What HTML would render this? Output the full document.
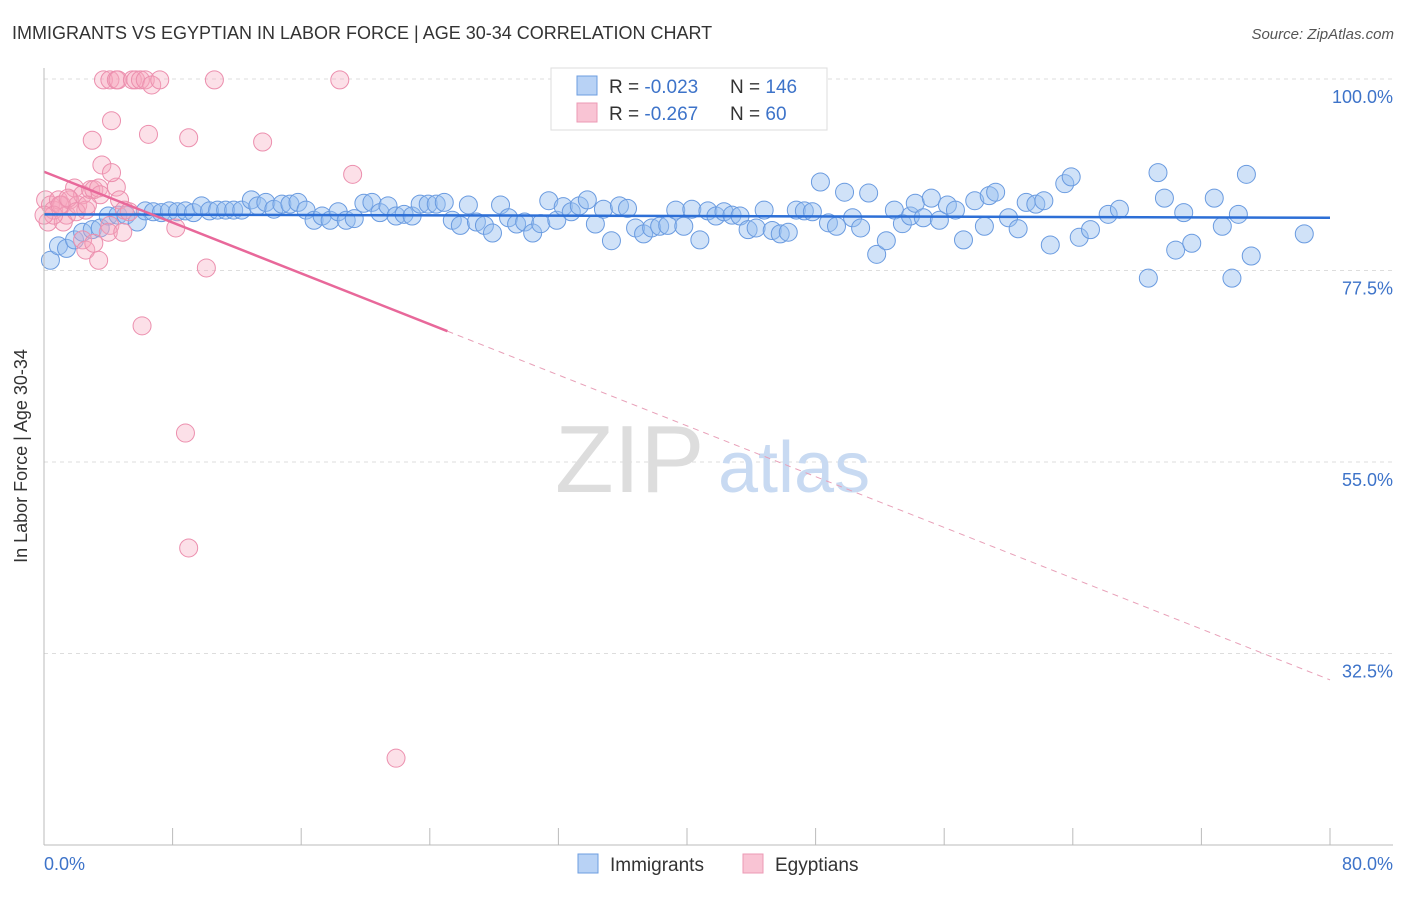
<!DOCTYPE html>
<html><head><meta charset="utf-8"><style>
body{margin:0;background:#fff;font-family:"Liberation Sans",sans-serif;}
svg text{font-family:"Liberation Sans",sans-serif;}
</style></head><body>
<svg width="1406" height="892" xmlns="http://www.w3.org/2000/svg">
<text x="12" y="39" font-size="18" fill="#333">IMMIGRANTS VS EGYPTIAN IN LABOR FORCE | AGE 30-34 CORRELATION CHART</text>
<text x="1394" y="39" font-size="15" fill="#555" text-anchor="end" font-style="italic">Source: ZipAtlas.com</text>
<g id="grid"></g>
<text x="555" y="492" font-size="96" fill="#ddd" font-family="Liberation Serif">ZIP</text>
<text x="718" y="492" font-size="72" fill="#c8daf2">atlas</text>
<g id="pts"></g>
<g id="trend"></g>
<g id="axes"></g>
<text x="27" y="456" font-size="18" fill="#333" text-anchor="middle" transform="rotate(-90 27 456)">In Labor Force | Age 30-34</text>
<text x="44" y="870" font-size="18" fill="#3d73c9">0.0%</text>
<text x="1393" y="870" font-size="18" fill="#3d73c9" text-anchor="end">80.0%</text>
<g>
<rect x="551" y="68" width="276" height="62" fill="#fff" stroke="#ddd"/>
<rect x="577" y="76" width="20" height="19" fill="#b8d2f5" stroke="#6c9ee0"/>
<rect x="577" y="103" width="20" height="19" fill="#f9c4d4" stroke="#ec9ab5"/>
<text x="609" y="93" font-size="19" fill="#333">R = <tspan fill="#3d73c9">-0.023</tspan></text>
<text x="730" y="93" font-size="19" fill="#333">N = <tspan fill="#3d73c9">146</tspan></text>
<text x="609" y="120" font-size="19" fill="#333">R = <tspan fill="#3d73c9"> -0.267</tspan></text>
<text x="730" y="120" font-size="19" fill="#333">N = <tspan fill="#3d73c9"> 60</tspan></text>
</g>
<g>
<rect x="578" y="854" width="20" height="19" fill="#b8d2f5" stroke="#6c9ee0"/>
<text x="610" y="871" font-size="19" fill="#333">Immigrants</text>
<rect x="743" y="854" width="20" height="19" fill="#f9c4d4" stroke="#ec9ab5"/>
<text x="775" y="871" font-size="19" fill="#333">Egyptians</text>
</g>
</svg>
<script>
const yTicks=[100,77.5,55,32.5];
const yTickLabels=["100.0%","77.5%","55.0%","32.5%"];
const xTicks=[0,8,16,24,32,40,48,56,64,72,80];
const blueX=[0.4,0.9,1.4,1.9,2.4,3.0,3.5,4.0,4.6,5.1,5.8,6.3,6.8,7.3,7.8,8.3,8.8,9.3,9.8,10.3,10.8,11.3,11.8,12.3,12.9,13.3,13.8,14.3,14.8,15.3,15.8,16.3,16.8,17.3,17.8,18.3,18.8,19.3,19.9,20.4,20.9,21.4,21.9,22.4,22.9,23.4,23.9,24.4,24.9,25.4,25.9,26.4,26.9,27.4,27.9,28.4,28.9,29.4,29.9,30.4,30.9,31.4,31.9,32.3,32.8,33.3,33.8,34.3,34.8,35.3,35.8,36.3,36.8,37.3,37.8,38.3,38.8,39.3,39.8,40.3,40.8,41.3,41.8,42.3,42.8,43.3,43.8,44.3,44.8,45.3,45.8,46.3,46.8,47.3,47.8,48.3,48.8,49.3,49.8,50.3,50.8,51.3,51.8,52.4,52.9,53.4,53.9,54.2,54.7,55.2,55.7,56.2,56.7,57.2,57.9,58.5,58.8,59.2,60.0,60.6,61.1,61.7,62.2,62.6,63.5,63.9,64.4,65.1,66.2,66.9,68.7,69.3,69.7,70.4,70.9,71.4,72.8,73.3,73.9,74.3,74.8,75.1,78.4];
const blueY=[78.7,80.4,80.1,81.1,82.0,82.3,82.5,83.9,84.0,84.0,83.2,84.5,84.4,84.3,84.5,84.4,84.5,84.3,85.1,84.5,84.6,84.6,84.6,84.6,85.8,85.1,85.5,84.7,85.3,85.3,85.5,84.6,83.4,83.9,83.4,84.4,83.4,83.6,85.4,85.5,84.3,85.1,83.9,84.1,83.9,85.3,85.3,85.3,85.5,83.4,82.8,85.2,83.2,82.8,81.9,85.2,83.7,82.96,83.2,81.9,83.0,85.7,83.4,85.0,84.4,85.1,85.8,82.96,84.7,81.0,85.1,84.8,82.5,81.8,82.5,82.7,82.8,84.6,82.7,84.7,81.1,84.5,83.9,84.4,84.0,83.9,82.3,82.5,84.6,82.2,81.8,82.0,84.6,84.5,84.4,87.9,83.1,82.7,86.7,83.7,82.5,86.6,79.4,81.0,84.6,83.0,83.9,85.4,83.7,86.0,83.4,85.2,84.6,81.1,85.7,82.7,86.3,86.7,83.7,82.4,85.5,85.3,85.7,80.5,87.7,88.5,81.4,82.3,84.1,84.7,76.6,89.0,86.0,79.9,84.3,80.7,86.0,82.7,76.6,84.1,88.8,79.2,81.8];
const pinkX=[0.1,0.4,0.6,0.9,1.1,1.4,1.6,1.9,2.1,2.4,2.6,2.9,3.1,3.4,3.5,0.25,1.2,2.4,2.6,3.1,3.4,4.1,4.5,4.7,5.0,5.3,3.0,3.6,4.2,4.2,3.7,4.1,4.5,4.6,5.5,5.7,6.0,6.3,6.7,7.2,6.5,9.0,10.6,13.6,18.4,19.2,8.2,6.1,10.1,8.8,9.0,21.9,0.6,1.0,1.5,2.0,2.7,0,4.0,4.9];
const pinkY=[85.8,85.2,84.6,85.8,85.2,84.0,85.8,87.2,85.2,86.4,84.6,87.0,87.0,87.2,86.4,83.2,83.2,81.1,79.9,80.7,78.7,82.8,87.3,85.8,84.6,84.4,92.8,89.9,89.0,95.1,99.9,99.9,99.9,99.9,99.9,99.9,99.9,99.9,99.3,99.9,93.5,93.1,99.9,92.6,99.9,88.8,82.5,71.0,77.8,58.4,44.9,20.2,84.0,85.2,86.0,84.4,85.2,84.0,82.0,82.0];
const blueTrend=[84.1,83.7];
const pinkTrend=[89.1,29.4];
const pinkSolidEnd=25.1;
const NS="http://www.w3.org/2000/svg";
const X=v=>44+v*16.075, Y=v=>79+(100-v)*8.511;
function mk(t,a,p){const e=document.createElementNS(NS,t);for(const k in a)e.setAttribute(k,a[k]);p.appendChild(e);return e;}
const grid=document.getElementById('grid');
yTicks.forEach((t,i)=>{
 const l=mk('line',{x1:44,x2:1393,y1:Y(t),y2:Y(t),stroke:'#ddd','stroke-dasharray':'4,4'},grid);
 
 
 const tx=mk('text',{x:1393,y:Y(t)+24,'font-size':18,fill:'#3d73c9','text-anchor':'end'},grid);
 tx.textContent=yTickLabels[i];
 
 
});
const axes=document.getElementById('axes');
mk('line',{x1:44,x2:44,y1:68,y2:845,stroke:'#bbb'},axes);
mk('line',{x1:44,x2:1393,y1:845,y2:845,stroke:'#bbb'},axes);
xTicks.forEach(t=>{const l=mk('line',{x1:X(t),x2:X(t),y1:828,y2:845,stroke:'#bbb'},axes);
 
 });
const pts=document.getElementById('pts');
blueX.forEach((x,i)=>{const c=mk('circle',{cx:X(x),cy:Y(blueY[i]),r:9,fill:'rgba(150,190,240,0.45)',stroke:'#6a9be0','stroke-width':1},pts);
 
 });
pinkX.forEach((x,i)=>{const c=mk('circle',{cx:X(x),cy:Y(pinkY[i]),r:9,fill:'rgba(245,165,190,0.35)',stroke:'#ec8fae','stroke-width':1},pts);
 
 });
const tr=document.getElementById('trend');
const bl=mk('line',{x1:X(0),x2:X(80),y1:Y(blueTrend[0]),y2:Y(blueTrend[1]),stroke:'#2d6fd6','stroke-width':2.5},tr);


const pv=x=>pinkTrend[0]+(pinkTrend[1]-pinkTrend[0])*x/80;
const ps=mk('line',{x1:X(0),x2:X(pinkSolidEnd),y1:Y(pv(0)),y2:Y(pv(pinkSolidEnd)),stroke:'#e8689a','stroke-width':2.5},tr);


const pd=mk('line',{x1:X(pinkSolidEnd),x2:X(80),y1:Y(pv(pinkSolidEnd)),y2:Y(pv(80)),stroke:'#e8a0b8','stroke-width':1,'stroke-dasharray':'6,5'},tr);


</script>
</body></html>
